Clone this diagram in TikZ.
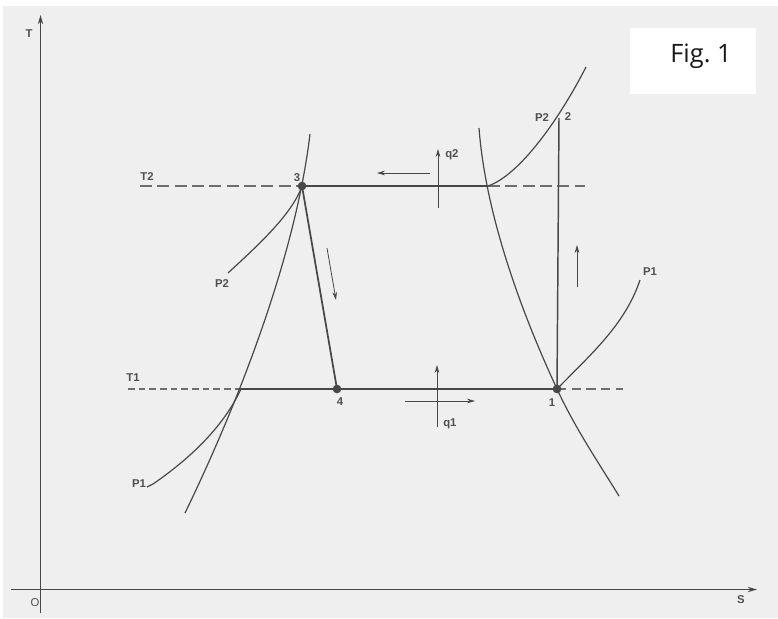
\documentclass[tikz,border=0pt]{standalone}
\usepackage{fontspec}
\setmainfont{Liberation Sans}
\newfontfamily\figfont{Open Sans}
\usetikzlibrary{arrows.meta}

\begin{document}
\begin{tikzpicture}[
    x=0.75pt, y=-0.75pt,
    every node/.style={font=\fontsize{8.5}{10}\selectfont\bfseries, text=labelcolor, inner sep=0pt},
    axis/.style={ink, line width=1pt, -{Stealth[length=7pt, width=4pt]}},
    curve/.style={ink, line width=0.9pt},
    hotline/.style={ink, line width=2pt},
    hotdash/.style={dashink, line width=2pt, dash pattern=on 9pt off 4pt},
    coldline/.style={ink, line width=1.5pt},
    colddash/.style={dashink, line width=1pt, dash pattern=on 5pt off 3pt},
    colddashr/.style={dashink, line width=1.5pt, dash pattern=on 7pt off 4pt},
    flow/.style={ink, line width=0.6pt, -{Stealth[length=6pt, width=3.5pt]}},
    statedot/.style={circle, fill=ink, minimum size=6.5pt},
]

% ---------------------------------------------------------------- colours
\definecolor{bg}{HTML}{EFEFEF}
\definecolor{ink}{HTML}{484848}        % curves and state lines
\definecolor{dashink}{HTML}{6E6E6E}    % the isotherms outside the cycle
\definecolor{labelcolor}{HTML}{505050}

% ================================================================
% T-s chart, drawn in pixels of the scan (y runs downwards).
%   T2 at y = 186,  T1 at y = 389
% ================================================================

\useasboundingbox (0,0) rectangle (778,618);
\fill[white] (0,0) rectangle (778,618);
\fill[bg] (3,6) rectangle (778,618);

% caption box
\fill[white] (630,28) rectangle (756,94);
\node[font=\figfont\fontsize{19}{22}\selectfont, text=black!90, anchor=base] (figlabel) at (701,62) {Fig.~1};

% axes
\coordinate (tfoot) at (40.5,613);
\coordinate (ttip)  at (40.5,15);
\coordinate (sfoot) at (11,589.5);
\coordinate (stip)  at (757,589.5);
\draw[axis] (tfoot) -- (ttip);
\draw[axis] (sfoot) -- (stip);
\node[anchor=base] (tlabel) at (29,37) {T};
\node[anchor=base] (slabel) at (741,603) {S};
\node[anchor=base, font=\fontsize{8.5}{10}\selectfont] (olabel) at (35,606) {O};

% state points
\coordinate (s1) at (557,389);
\coordinate (s2) at (559,118);
\coordinate (s3) at (302,186);
\coordinate (s4) at (337,389);
\coordinate (liq1) at (241,389);   % T1 meets the liquid line
\coordinate (vap2) at (488,186);   % T2 meets the vapour line

% isotherms
\coordinate (t2left)  at (140,186);
\coordinate (t2right) at (585,186);
\coordinate (t1left)  at (128,389);
\coordinate (t1right) at (623,389);
\draw[hotdash] (t2left) -- (s3);
\draw[hotline] (s3) -- (vap2);
\draw[hotdash] (vap2) -- (t2right);
\draw[colddash] (t1left) -- (liq1);
\draw[coldline] (liq1) -- (s1);
\draw[colddashr] (s1) -- (t1right);

% saturation lines
\draw[curve] (185,513) .. controls (235,410) and (295,260) .. (310,134);
\draw[curve] (479,128) .. controls (486,220) and (525,320) .. (s1)
                       .. controls (575,428) and (600,465) .. (619,496);

% isobars
\draw[curve] (vap2) .. controls (520,175) and (560,118) .. (586,67);
\draw[curve] (s1) .. controls (590,355) and (625,325) .. (640,280);
\draw[curve] (s3) .. controls (292,215) and (255,248) .. (228,273);
\draw[curve] (147,487) -- (153,484) .. controls (185,462) and (222,430) .. (liq1);

% compression and expansion
\draw[curve, line width=1.1pt] (s1) -- (s2);
\draw[curve, line width=1.3pt] (s3) -- (s4);

\node[statedot] (n1) at (s1) {};
\node[statedot] (n3) at (s3) {};
\node[statedot] (n4) at (s4) {};

% direction arrows
\coordinate (a1) at (430,173); \coordinate (b1) at (377,173);
\coordinate (a2) at (438,208); \coordinate (b2) at (438,149);
\coordinate (a3) at (327,248); \coordinate (b3) at (336,300);
\coordinate (a4) at (577,287); \coordinate (b4) at (577,245);
\coordinate (a5) at (405,401); \coordinate (b5) at (475,401);
\coordinate (a6) at (437,427); \coordinate (b6) at (437,365);
\foreach \i in {1,...,6} {
    \draw[flow] (a\i) -- (b\i);
}

% labels
\node[anchor=base] (t2label) at (147,180) {T2};
\node[anchor=base] (t1label) at (133,381) {T1};
\node[anchor=base] (l3) at (297,181) {3};
\node[anchor=base] (l4) at (340,405) {4};
\node[anchor=base] (l1) at (552,406) {1};
\node[anchor=base] (l2) at (568,120) {2};
\node[anchor=base west] (q2label) at (445,157) {q2};
\node[anchor=base west] (q1label) at (443,426) {q1};
\node[anchor=base] (p2right) at (542,121) {P2};
\node[anchor=base] (p1right) at (650,275) {P1};
\node[anchor=base] (p2left) at (222,287) {P2};
\node[anchor=base] (p1left) at (139,487) {P1};

\end{tikzpicture}
\end{document}
